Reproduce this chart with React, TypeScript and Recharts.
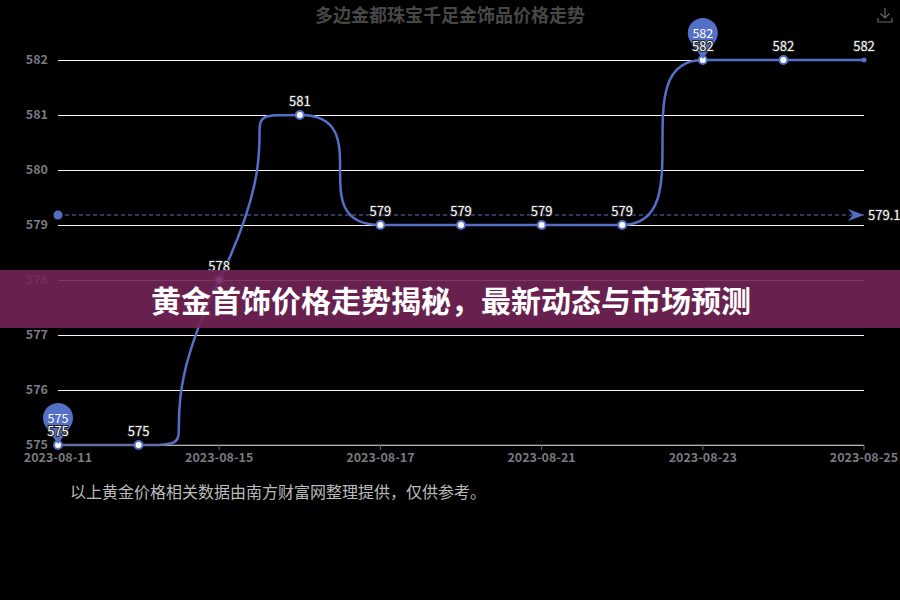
import React from 'react';
import { LineChart, Line, XAxis, YAxis, CartesianGrid, ReferenceLine, LabelList } from 'recharts';

const dates = ['2023-08-11', '2023-08-14', '2023-08-15', '2023-08-16', '2023-08-17', '2023-08-18', '2023-08-21', '2023-08-22', '2023-08-23', '2023-08-24', '2023-08-25'];
const prices = [575, 575, 578, 581, 579, 579, 579, 579, 582, 582, 582];
const yTicks = [575, 576, 577, 578, 579, 580, 581, 582];

const data = dates.map((d, i) => ({ date: d, value: prices[i] }));
const avg = prices.reduce((a, b) => a + b, 0) / prices.length;
const minIdx = prices.indexOf(Math.min(...prices));
const maxIdx = prices.indexOf(Math.max(...prices));

const BLUE = '#5470c6';
const FONT = '"Noto Sans CJK SC", "Noto Sans", sans-serif';

// monotone tangents, but with long control arms (sharper "echarts smooth" look)
const sharpCurve = (context: any) => {
    let xs: number[] = [];
    let ys: number[] = [];
    const K = 1;
    return {
        areaStart() {},
        areaEnd() {},
        lineStart() { xs = []; ys = []; },
        point(x: number, y: number) { xs.push(+x); ys.push(+y); },
        lineEnd() {
            const n = xs.length;
            if (!n) return;
            const sec: number[] = [];
            for (let i = 0; i < n - 1; i++) sec.push((ys[i + 1] - ys[i]) / (xs[i + 1] - xs[i] || 1));
            const m: number[] = [];
            for (let i = 0; i < n; i++) {
                if (i === 0 || i === n - 1) { m.push(0); continue; }
                const s0 = sec[i - 1], s1 = sec[i];
                if (s0 * s1 <= 0) { m.push(0); continue; }
                const h0 = xs[i] - xs[i - 1], h1 = xs[i + 1] - xs[i];
                const p = (s0 * h1 + s1 * h0) / (h0 + h1);
                m.push(Math.sign(s0) * Math.min(Math.abs(s0), Math.abs(s1), Math.abs(p)));
            }
            context.moveTo(xs[0], ys[0]);
            for (let i = 0; i < n - 1; i++) {
                const h = xs[i + 1] - xs[i];
                context.bezierCurveTo(
                    xs[i] + K * h, ys[i] + m[i] * K * h,
                    xs[i + 1] - K * h, ys[i + 1] - m[i + 1] * K * h,
                    xs[i + 1], ys[i + 1]
                );
            }
        },
    };
};

const PointDot = (props: any) => {
    const { cx, cy, index } = props;
    if (cx == null || cy == null) return null;
    if (index === prices.length - 1) {
        return <circle key={index} cx={cx} cy={cy} r={2.5} fill={BLUE} />;
    }
    return <circle key={index} cx={cx} cy={cy} r={4} fill="#fff" stroke={BLUE} strokeWidth={2} />;
};

// pin marker on min / max points
const PinDot = (props: any) => {
    const { cx, cy, index, value } = props;
    if (cx == null || cy == null) return null;
    if (index !== minIdx && index !== maxIdx) return <g key={index} />;
    const r = 15;
    const c = cy - 27;
    const path = `M${cx},${cy - 1} L${cx - 12.26},${c + 8.64} A${r} ${r} 0 1 1 ${cx + 12.26},${c + 8.64} Z`;
    const v = Array.isArray(value) ? value[1] : value;
    return (
        <g key={index}>
            <path d={path} fill={BLUE} />
            <text x={cx} y={c + 4.5} textAnchor="middle" fill="#fff" fontSize={12.5} fontFamily={FONT}>{v}</text>
        </g>
    );
};

const AvgLabel = (props: any) => {
    const { viewBox } = props;
    if (!viewBox) return null;
    const { x, y, width } = viewBox;
    const end = x + width;
    return (
        <g>
            <circle cx={x} cy={y} r={4.5} fill={BLUE} />
            <path d={`M${end},${y} L${end - 16},${y - 6} L${end - 11},${y} L${end - 16},${y + 6} Z`} fill={BLUE} />
            <text x={end + 4} y={y + 4.5} fill="#fff" stroke="#222" strokeWidth={2} paintOrder="stroke" fontSize={13} fontFamily={FONT}>
                {avg.toFixed(2)}
            </text>
        </g>
    );
};

export default function App() {
    return (
        <div style={{ position: 'absolute', left: 0, top: 0, width: 900, height: 600, background: '#000', overflow: 'hidden', fontFamily: FONT }}>
            <div style={{ position: 'absolute', top: 1, left: 0, width: 900, textAlign: 'center', color: '#474747', fontSize: 18, fontWeight: 'bold' }}>
                多边金都珠宝千足金饰品价格走势
            </div>
            <svg style={{ position: 'absolute', left: 877, top: 7 }} width={16} height={16} viewBox="0 0 16 16">
                <path d="M8 1 V11 M3.5 6.5 L8 11 L12.5 6.5 M1 11 V15 H15 V11" stroke="#666" strokeWidth={1.2} fill="none" />
            </svg>
            <LineChart width={900} height={600} data={data} margin={{ top: 60, right: 36, bottom: 125, left: 0 }}>
                <CartesianGrid horizontal vertical={false} stroke="#f4f4f8" shapeRendering="crispEdges" />
                <XAxis
                    dataKey="date"
                    interval={1}
                    height={30}
                    tickSize={5}
                    tickMargin={3}
                    axisLine={{ stroke: '#6e7079' }}
                    tickLine={{ stroke: '#6e7079' }}
                    tick={{ fill: '#7a7a82', fontSize: 12.5, fontWeight: 'bold', fontFamily: FONT }}
                />
                <YAxis
                    domain={[575, 582]}
                    ticks={yTicks}
                    width={58}
                    axisLine={false}
                    tickLine={false}
                    tickSize={0}
                    tickMargin={10}
                    tick={{ fill: '#7a7a82', fontSize: 12.5, fontWeight: 'bold', fontFamily: FONT }}
                />
                <ReferenceLine y={avg} stroke={BLUE} strokeDasharray="4 3" strokeWidth={1} label={<AvgLabel />} />
                <Line
                    type={sharpCurve as any}
                    dataKey="value"
                    stroke={BLUE}
                    strokeWidth={2.5}
                    dot={<PointDot />}
                    activeDot={false}
                    isAnimationActive={false}
                >
                    <LabelList
                        dataKey="value"
                        position="top"
                        offset={9}
                        fill="#fff"
                        stroke="#222"
                        strokeWidth={2}
                        style={{ paintOrder: 'stroke' }}
                        fontSize={13}
                        fontFamily={FONT}
                    />
                </Line>
                <Line
                    type={sharpCurve as any}
                    dataKey="value"
                    stroke="none"
                    dot={<PinDot />}
                    activeDot={false}
                    legendType="none"
                    isAnimationActive={false}
                />
            </LineChart>
            <div style={{ position: 'absolute', left: 0, top: 270, width: 900, height: 58, background: 'rgba(115,37,87,0.9)', display: 'flex', alignItems: 'center', justifyContent: 'center' }}>
                <span style={{ color: '#fff', fontSize: 30, fontWeight: 'bold', marginLeft: 2, lineHeight: '58px' }}>黄金首饰价格走势揭秘，最新动态与市场预测</span>
            </div>
            <div style={{ position: 'absolute', left: 70, top: 479, color: '#bbb', fontSize: 16 }}>
                以上黄金价格相关数据由南方财富网整理提供，仅供参考。
            </div>
        </div>
    );
}
